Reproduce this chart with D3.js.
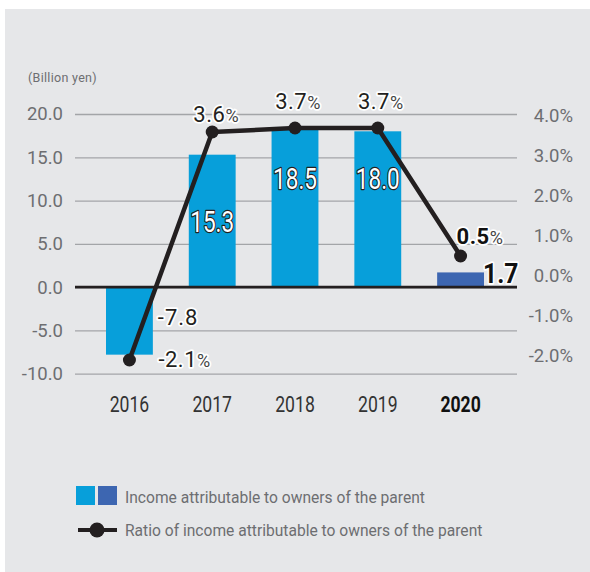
<!DOCTYPE html>
<html>
<head>
<meta charset="utf-8">
<script src="https://cdn.jsdelivr.net/npm/d3@7"></script>
<style>
  html, body { margin: 0; padding: 0; background: #ffffff; }
  svg { display: block; font-family: Roboto, "Noto Sans", sans-serif; }
</style>
</head>
<body>
<svg id="chart" width="590" height="572"></svg>
<script>
// Fiscal years and the two series
const years = ["2016", "2017", "2018", "2019", "2020"];
const income = [-7.8, 15.3, 18.5, 18.0, 1.7];          // billion yen
const ratio = [-2.1, 3.6, 3.7, 3.7, 0.5];               // percent
const leftTicks = [-10, -5, 0, 5, 10, 15, 20];
const rightTicks = [-2, -1, 0, 1, 2, 3, 4];
const unitLabel = "(Billion yen)";
const legendLabels = [
  "Income attributable to owners of the parent",
  "Ratio of income attributable to owners of the parent"
];

const BAR = "#079fda", BAR_LATEST = "#3d66b1", INK = "#231f20", AXIS_TEXT = "#6d6e71";

const svg = d3.select("#chart");

// panel background
svg.append("rect").attr("x", 5).attr("y", 9).attr("width", 585).attr("height", 563).attr("fill", "#e6e7e9");

const plotL = 75, plotR = 517;
const x = d3.scaleBand().domain(years).range([106, 484]).paddingInner(0.434).paddingOuter(0);
const yL = d3.scaleLinear().domain([-10, 20]).range([373.7, 114]);
const yR = d3.scaleLinear().domain([-2, 4]).range([356, 116]);

// left axis with gridlines
const gL = svg.append("g").attr("transform", `translate(${plotL},0)`)
  .call(d3.axisLeft(yL).tickValues(leftTicks).tickSize(-(plotR - plotL)).tickPadding(12)
    .tickFormat(d => d.toFixed(1)));
gL.select(".domain").remove();
gL.selectAll(".tick line").attr("stroke", "#a3a5a8").attr("stroke-width", 1.3);
gL.selectAll(".tick text").attr("fill", AXIS_TEXT).attr("font-size", 18.5).attr("font-family", "Roboto");

// right axis (percent)
const gR = svg.append("g").attr("transform", `translate(${plotR},0)`)
  .call(d3.axisRight(yR).tickValues(rightTicks).tickSize(0)
    .tickFormat(d => d.toFixed(1) + "%"));
gR.select(".domain").remove();
gR.selectAll(".tick text").attr("fill", AXIS_TEXT).attr("font-size", 18.5).attr("font-family", "Roboto")
  .attr("text-anchor", "end").attr("x", 56);

// unit label
svg.append("text").attr("x", 28).attr("y", 82).attr("font-size", 12.5).attr("letter-spacing", 0.3)
  .attr("fill", AXIS_TEXT).text(unitLabel);

// bars
const last = years.length - 1;
svg.append("g").selectAll("rect").data(income).join("rect")
  .attr("x", (d, i) => x(years[i]))
  .attr("width", x.bandwidth())
  .attr("y", d => yL(Math.max(0, d)))
  .attr("height", d => Math.abs(yL(d) - yL(0)))
  .attr("fill", (d, i) => i === last ? BAR_LATEST : BAR);

// zero line
svg.append("line").attr("x1", plotL).attr("x2", plotR).attr("y1", yL(0)).attr("y2", yL(0))
  .attr("stroke", INK).attr("stroke-width", 2.6);

// year labels
const gX = svg.append("g").attr("transform", `translate(0,${yL(-10)})`)
  .call(d3.axisBottom(x).tickSize(0).tickPadding(0));
gX.select(".domain").remove();
gX.selectAll(".tick text")
  .attr("y", 38.5).attr("dy", 0)
  .attr("font-size", 22).attr("font-family", "Roboto")
  .attr("transform", "scale(0.8,1)")
  .attr("fill", (d, i) => i === last ? "#111" : "#333")
  .attr("font-weight", (d, i) => i === last ? 700 : 400);

// ratio line and markers
const cx = i => x(years[i]) + x.bandwidth() / 2;
svg.append("path").datum(ratio)
  .attr("d", d3.line().x((d, i) => cx(i)).y(d => yR(d)))
  .attr("fill", "none").attr("stroke", INK).attr("stroke-width", 4.5).attr("stroke-linejoin", "round");
svg.append("g").selectAll("circle").data(ratio).join("circle")
  .attr("cx", (d, i) => cx(i)).attr("cy", d => yR(d)).attr("r", 6.5).attr("fill", INK);

// value labels for the bars
const innerDrop = { 1: 77, 2: 62, 3: 58 };
income.forEach((v, i) => {
  const xb = x(years[i]);
  let g;
  if (i === 0) {
    g = svg.append("g").attr("transform", `translate(${xb + x.bandwidth() + 5},${yL(0) + 38})`);
    g.append("text").attr("font-size", 22).attr("letter-spacing", 1)
      .attr("fill", INK).attr("stroke", "#fff").attr("stroke-width", 3.5).attr("paint-order", "stroke")
      .attr("stroke-linejoin", "round").text(v.toFixed(1));
  } else if (i === last) {
    g = svg.append("g").attr("transform", `translate(${xb + x.bandwidth() - 1},${yL(0) - 4})`);
    g.append("text").attr("font-size", 28).attr("font-weight", 700).attr("transform", "scale(0.88,1)")
      .attr("fill", "#111").attr("stroke", "#fff").attr("stroke-width", 3.5).attr("paint-order", "stroke")
      .attr("stroke-linejoin", "round").text(v.toFixed(1));
  } else {
    g = svg.append("g").attr("transform", `translate(${xb + x.bandwidth() / 2},${yL(v) + innerDrop[i]})`);
    g.append("text").attr("font-size", 29).attr("text-anchor", "middle").attr("transform", "scale(0.78,1)")
      .attr("fill", "#fff").attr("stroke", INK).attr("stroke-width", 2.4).attr("paint-order", "stroke")
      .attr("stroke-linejoin", "round").text(v.toFixed(1));
  }
});

// value labels for the ratio
const ratioLabel = [
  { dx: 29, dy: 7, anchor: "start" },
  { dx: 4, dy: -10, anchor: "middle" },
  { dx: 3, dy: -19, anchor: "middle" },
  { dx: 3, dy: -19, anchor: "middle" },
  { dx: -4, dy: -12, anchor: "start" }
];
ratio.forEach((v, i) => {
  const o = ratioLabel[i];
  const t = svg.append("text")
    .attr("x", cx(i) + o.dx).attr("y", yR(v) + o.dy)
    .attr("text-anchor", o.anchor)
    .attr("font-size", 22).attr("letter-spacing", 0.5)
    .attr("font-weight", i === last ? 700 : 400)
    .attr("fill", i === last ? "#111" : INK)
    .attr("stroke", "#fff").attr("stroke-width", 3.5).attr("paint-order", "stroke").attr("stroke-linejoin", "round");
  t.append("tspan").text(v.toFixed(1));
  t.append("tspan").attr("font-size", 18).attr("font-weight", 400).attr("fill", "#444").text("%");
});

// legend
const lg = svg.append("g");
lg.append("rect").attr("x", 76).attr("y", 486).attr("width", 19).attr("height", 19).attr("fill", BAR);
lg.append("rect").attr("x", 98).attr("y", 486).attr("width", 19).attr("height", 19).attr("fill", BAR_LATEST);
lg.append("text").attr("x", 125).attr("y", 503).attr("font-size", 15.6).attr("fill", AXIS_TEXT).text(legendLabels[0]);
lg.append("line").attr("x1", 78).attr("x2", 117).attr("y1", 530).attr("y2", 530).attr("stroke", INK).attr("stroke-width", 4);
lg.append("circle").attr("cx", 97).attr("cy", 530).attr("r", 7.5).attr("fill", INK);
lg.append("text").attr("x", 125).attr("y", 536).attr("font-size", 15.6).attr("fill", AXIS_TEXT).text(legendLabels[1]);
</script>
</body>
</html>
